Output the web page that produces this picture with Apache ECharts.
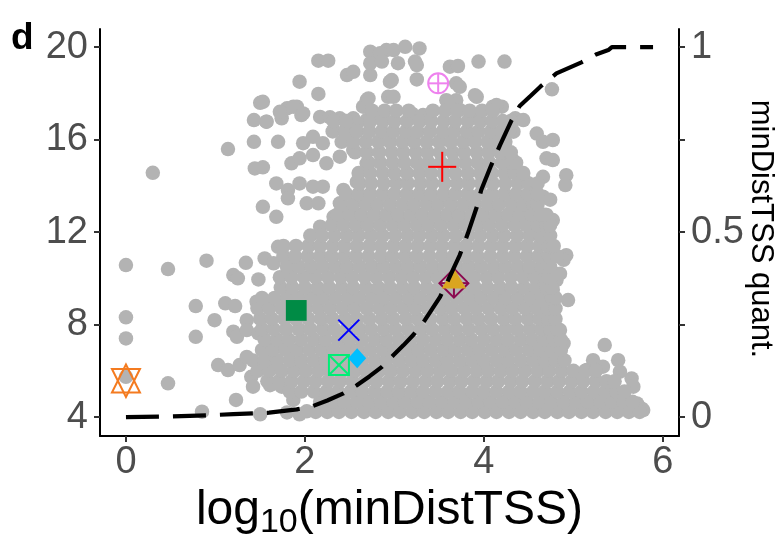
<!DOCTYPE html>
<html>
<head>
<meta charset="utf-8">
<script src="https://cdn.jsdelivr.net/npm/echarts@6/dist/echarts.min.js"></script>
<style>
  html, body { margin: 0; padding: 0; background: #ffffff; }
  #chart { width: 778px; height: 539px; }
</style>
</head>
<body>
<div id="chart"></div>
<script>
// Scattered peaks: [log10(minDistTSS), score]
const outerPeaks = [
  [0,10.57],[0.47,10.4],[0.9,10.76],[0,8.31],[0,7.4],[0,5.74],[0.47,5.46],[0.78,8.8],[0.78,7.47],[0.99,8.19],
  [0.85,4.23],[1.23,4.74],[1.5,4.12],[1.87,4.74],[1.34,10.67],[1.2,10.14],[1.25,10.0],[1.48,9.95],[1.55,10.86],
  [1.65,10.65],[1.7,11.36],[1.11,8.92],[1.22,8.8],[1.46,8.99],[1.57,8.94],[1.35,8.19],[1.2,7.69],[1.24,7.47],
  [1.35,7.76],[1.48,7.62],[1.03,6.25],[1.14,6.03],[1.27,6.25],[1.35,6.6],[1.4,5.74],[1.42,5.31],[1.61,5.38],
  [1.74,5.31],[1.65,6.18],[1.57,6.82],[1.65,7.19],[1.8,4.2],[1.94,4.12],[2.02,4.25],
  [0.3,14.56],[1.14,15.59],[1.43,15.9],[1.7,15.9],[1.5,17.59],[1.43,16.84],[1.57,16.77],[1.74,16.92],[1.8,17.35],
  [1.91,17.42],[1.96,17.06],[1.94,18.5],[2.15,19.41],[2.26,19.41],[2.15,17.97],[2.47,18.79],[2.54,18.93],
  [2.73,19.8],[2.84,19.58],[2.91,19.87],[2.73,18.79],[2.69,17.7],[2.65,17.42],[2.17,16.98],[2.28,16.96],
  [2.39,16.92],[2.54,16.92],[2.69,16.84],[2.86,17.06],[1.44,14.75],[1.53,14.8],[1.98,15.84],[2.09,16.12],
  [2.2,15.84],[1.85,14.97],[1.94,15.19],[2.09,15.33],[1.68,14.1],[1.81,13.82],[1.94,14.1],[2.09,13.96],
  [2.2,13.96],[1.53,13.09],[1.68,12.66],[1.81,13.46],[2.02,13.24],[2.15,13.24],[2.17,12.23],[2.32,16.41],
  [2.47,16.55],[2.58,16.7],[2.58,14.17],[2.43,13.82],[2.39,13.24],[2.32,12.66],[2.5,12.8],[2.24,14.97],
  [2.39,15.26],[2.54,15.55],[2.69,14.97],
  [2.84,19.73],[2.99,19.87],[3.12,20.01],[3.28,19.94],[2.73,19.3],[2.86,19.37],[3.04,19.3],[3.23,19.37],
  [3.25,19.22],[3.62,19.15],[3.71,19.18],[3.94,19.37],[4.23,19.37],[2.95,18.5],[3.25,18.6],[3.69,18.43],
  [3.73,18.28],[3.92,17.85],[4.1,17.42],[4.2,17.42],[2.93,17.85],[2.71,17.78],[3.21,17.06],[3.36,16.99],
  [2.87,17.06],[3.58,17.7],[3.69,17.7],[3.73,17.28],[3.88,17.06],[4.33,16.84],[1.53,17.63],[1.57,16.77],
  [1.72,17.2],[1.87,17.42],[1.98,17.13],
  [2.97,18.57],[2.99,17.85],[3.19,17.13],[3.32,17.06],[3.6,17.63],[3.9,17.92],[4.76,18.17],[4.14,17.49],
  [4.35,16.92],[4.33,16.34],[4.59,16.26],[4.66,15.9],[4.77,15.98],[4.31,15.19],[4.7,15.19],[4.77,15.11],
  [4.92,14.46],[4.91,14.03],[4.66,14.39],[4.66,13.53],[4.44,14.32],[4.55,14.03],[4.55,12.88],[4.7,12.74],
  [4.77,12.52],[4.44,16.84],
  [4.92,11.0],[4.89,10.8],[4.81,9.92],[4.77,9.5],[4.85,10.2],[4.94,9.06],[4.85,7.76],[4.89,7.19],[5.35,7.11],
  [5.22,6.46],[5.33,6.18],[5.5,6.46],[5.52,5.96],[5.65,5.67],[5.67,5.31],[5.02,5.89],[5.15,6.03],[5.56,4.95],
  [5.71,4.59],[5.78,4.3],[5.76,4.37],[4.74,13.4]
];

// Dense core of the cloud, one entry per score band: [score, [log10 distances]]
const corePeaks = [
  [4.22, [2.12,2.25,2.38,2.52,2.66,2.79,2.93,3.06,3.2,3.33,3.47,3.6,3.74,3.87,4.01,4.14,4.28,4.41,4.55,4.68,4.82,4.95,5.09,5.22,5.36,5.49,5.62,5.74]],
  [4.66, [2.17,2.31,2.44,2.58,2.71,2.85,2.99,3.12,3.26,3.39,3.53,3.67,3.8,3.94,4.07,4.21,4.35,4.48,4.62,4.75,4.89,5.03,5.16,5.3,5.43,5.56,5.66]],
  [5.1,  [1.83,1.96,2.1,2.24,2.37,2.51,2.64,2.78,2.92,3.05,3.19,3.32,3.46,3.6,3.73,3.87,4.0,4.14,4.28,4.41,4.55,4.68,4.82,4.96,5.09,5.23,5.36,5.48,5.57]],
  [5.55, [1.58,1.71,1.85,1.99,2.12,2.26,2.39,2.53,2.67,2.8,2.94,3.07,3.21,3.35,3.48,3.62,3.75,3.89,4.03,4.16,4.3,4.43,4.57,4.71,4.84,4.98,5.11,5.25,5.37,5.46]],
  [6.0,  [1.47,1.6,1.74,1.88,2.01,2.15,2.28,2.42,2.56,2.69,2.83,2.96,3.1,3.24,3.37,3.51,3.64,3.78,3.92,4.05,4.19,4.32,4.46,4.6,4.73,4.87,5.0,5.13,5.25]],
  [6.45, [1.42,1.55,1.69,1.83,1.96,2.1,2.23,2.37,2.51,2.64,2.78,2.91,3.05,3.19,3.32,3.46,3.59,3.73,3.87,4.0,4.14,4.27,4.41,4.55,4.68,4.8,4.9]],
  [6.9,  [1.52,1.64,1.78,1.91,2.05,2.19,2.32,2.46,2.59,2.73,2.87,3.0,3.14,3.27,3.41,3.55,3.68,3.82,3.95,4.09,4.23,4.36,4.5,4.63,4.75,4.86]],
  [7.35, [1.55,1.69,1.82,1.96,2.1,2.23,2.37,2.5,2.64,2.78,2.91,3.05,3.18,3.32,3.46,3.59,3.73,3.86,4.0,4.14,4.27,4.41,4.54,4.67,4.78,4.86]],
  [7.8,  [1.52,1.65,1.79,1.93,2.06,2.2,2.33,2.47,2.61,2.74,2.88,3.01,3.15,3.29,3.42,3.56,3.69,3.83,3.97,4.1,4.24,4.37,4.51,4.64,4.74,4.82]],
  [8.25, [1.5,1.63,1.77,1.9,2.04,2.18,2.31,2.45,2.58,2.72,2.86,2.99,3.13,3.26,3.4,3.54,3.67,3.81,3.94,4.08,4.22,4.35,4.49,4.62,4.72,4.8]],
  [8.7,  [1.47,1.6,1.74,1.87,2.01,2.15,2.28,2.42,2.55,2.69,2.83,2.96,3.1,3.23,3.37,3.51,3.64,3.78,3.91,4.05,4.19,4.32,4.46,4.59,4.71,4.8]],
  [9.15, [1.52,1.66,1.8,1.93,2.07,2.2,2.34,2.48,2.61,2.75,2.88,3.02,3.16,3.29,3.43,3.56,3.7,3.84,3.97,4.11,4.24,4.38,4.52,4.65,4.76,4.8]],
  [9.6,  [1.73,1.86,2.0,2.14,2.27,2.41,2.54,2.68,2.82,2.95,3.09,3.22,3.36,3.5,3.63,3.77,3.9,4.04,4.18,4.31,4.45,4.58,4.7,4.76]],
  [10.05,[1.72,1.85,1.99,2.12,2.26,2.4,2.53,2.67,2.8,2.94,3.08,3.21,3.35,3.48,3.62,3.76,3.89,4.03,4.16,4.3,4.44,4.57,4.68,4.72]],
  [10.5, [1.8,1.93,2.07,2.2,2.34,2.47,2.61,2.75,2.88,3.02,3.15,3.29,3.43,3.56,3.7,3.83,3.97,4.11,4.24,4.38,4.51,4.64,4.74]],
  [10.95,[1.76,1.89,2.03,2.17,2.3,2.44,2.57,2.71,2.85,2.98,3.12,3.25,3.39,3.53,3.66,3.8,3.93,4.07,4.21,4.34,4.48,4.61,4.73,4.82]],
  [11.4, [1.76,1.9,2.04,2.17,2.31,2.44,2.58,2.72,2.85,2.99,3.12,3.26,3.4,3.53,3.67,3.8,3.94,4.08,4.21,4.35,4.48,4.62,4.72,4.78]],
  [11.85,[2.06,2.19,2.33,2.47,2.6,2.74,2.87,3.01,3.15,3.28,3.42,3.55,3.69,3.83,3.96,4.1,4.23,4.37,4.51,4.63,4.74]],
  [12.3, [2.3,2.43,2.57,2.7,2.84,2.98,3.11,3.25,3.38,3.52,3.66,3.79,3.93,4.06,4.2,4.34,4.47,4.6,4.7,4.74]],
  [12.75,[2.36,2.5,2.63,2.77,2.91,3.04,3.18,3.31,3.45,3.59,3.72,3.86,3.99,4.13,4.27,4.4,4.53,4.63,4.68]],
  [13.2, [2.41,2.54,2.68,2.81,2.95,3.09,3.22,3.36,3.49,3.63,3.77,3.9,4.04,4.17,4.31,4.44,4.55,4.6]],
  [13.65,[2.46,2.6,2.73,2.87,3.0,3.14,3.28,3.41,3.55,3.68,3.82,3.96,4.09,4.23,4.36,4.49,4.6]],
  [14.1, [2.61,2.74,2.88,3.02,3.15,3.29,3.42,3.56,3.7,3.83,3.97,4.1,4.24,4.38,4.5,4.6]],
  [14.55,[2.6,2.73,2.87,3.0,3.14,3.28,3.41,3.55,3.68,3.82,3.96,4.09,4.23,4.34,4.44]],
  [15.0, [2.71,2.84,2.98,3.11,3.25,3.38,3.52,3.66,3.79,3.93,4.06,4.2,4.31,4.36]],
  [15.45,[2.56,2.69,2.83,2.97,3.1,3.24,3.37,3.51,3.65,3.78,3.92,4.05,4.18,4.3]],
  [15.9, [2.41,2.54,2.68,2.82,2.95,3.09,3.22,3.36,3.5,3.63,3.77,3.9,4.04,4.15,4.24]],
  [16.35,[2.31,2.45,2.58,2.72,2.86,2.99,3.13,3.26,3.4,3.54,3.67,3.81,3.94,4.08,4.2,4.28]],
  [16.8, [2.32,2.46,2.73,2.87,3.0,3.14,3.28,3.41,3.55,3.68,3.82,3.96,4.09,4.21,4.3]],
  [17.25,[2.75,2.89,3.02,3.16,3.43,3.57,3.7,3.84,3.98,4.1]]
];

// Cumulative quantile of minDistTSS (right axis)
const quantX = [0, 0.5, 0.9, 1.2, 1.42, 1.6, 1.91, 2.09, 2.25, 2.43, 2.58, 2.72, 2.86, 2.99, 3.1, 3.21, 3.34, 3.51, 3.6, 3.73, 3.82, 3.92, 3.97, 4.08, 4.18, 4.31, 4.4, 4.52, 4.63, 4.81, 5.09, 5.26, 5.39, 5.43, 5.89];
const quantY = [0, 0.002, 0.005, 0.008, 0.010, 0.012, 0.021, 0.030, 0.045, 0.064, 0.086, 0.11, 0.136, 0.168, 0.194, 0.222, 0.262, 0.325, 0.37, 0.438, 0.496, 0.568, 0.614, 0.68, 0.735, 0.803, 0.841, 0.868, 0.893, 0.929, 0.959, 0.981, 0.992, 1.0, 1.0];

// Highlighted peaks
const highlightX = [0.0, 1.903, 2.49, 2.38, 2.584, 3.665, 3.665, 3.534, 3.489];
const highlightY = [5.58, 8.61, 7.76, 6.25, 6.54, 9.79, 9.85, 14.82, 18.43];

// Tick values
const xTicks = [0, 2, 4, 6];
const yTicks = [4, 8, 12, 16, 20];
const qTicks = [0, 0.25, 0.5, 0.75, 1];
const qLabels = [0, 0.5, 1];

// Marker glyph for each highlighted peak
const highlightGlyphs = [
  { shape: 'hexagram', color: '#f47b20' },
  { shape: 'square', color: '#008b45' },
  { shape: 'cross', color: '#0000ff' },
  { shape: 'boxCross', color: '#00ee76' },
  { shape: 'diamond', color: '#00bfff' },
  { shape: 'diamondPlus', color: '#8b0a50' },
  { shape: 'triangle', color: '#daa520' },
  { shape: 'plus', color: '#ff0000' },
  { shape: 'circlePlus', color: '#ee82ee' }
];

const cloud = outerPeaks.slice();
corePeaks.forEach(function (band) {
  band[1].forEach(function (x) { cloud.push([x, band[0]]); });
});

const FONT = '"Liberation Sans", Arial, Helvetica, sans-serif';

function glyph(shape, color, cx, cy) {
  const stroke = { stroke: color, lineWidth: 2, fill: 'none' };
  const line = function (x1, y1, x2, y2) {
    return { type: 'line', shape: { x1: cx + x1, y1: cy + y1, x2: cx + x2, y2: cy + y2 }, style: stroke };
  };
  switch (shape) {
    case 'hexagram':
      return [
        { type: 'polygon', shape: { points: [[cx, cy - 16], [cx + 14, cy + 12], [cx - 14, cy + 12]] }, style: stroke },
        { type: 'polygon', shape: { points: [[cx, cy + 16.5], [cx + 14, cy - 11.5], [cx - 14, cy - 11.5]] }, style: stroke }
      ];
    case 'square':
      return [{ type: 'rect', shape: { x: cx - 10.4, y: cy - 10.4, width: 20.8, height: 20.8 }, style: { fill: color } }];
    case 'cross':
      return [line(-10.5, -10.5, 10.5, 10.5), line(-10.5, 10.5, 10.5, -10.5)];
    case 'boxCross':
      return [
        { type: 'rect', shape: { x: cx - 10, y: cy - 10, width: 20, height: 20 }, style: stroke },
        line(-10, -10, 10, 10), line(-10, 10, 10, -10)
      ];
    case 'diamond':
      return [{ type: 'polygon', shape: { points: [[cx, cy - 10], [cx + 9, cy], [cx, cy + 10], [cx - 9, cy]] }, style: { fill: color } }];
    case 'diamondPlus':
      return [
        { type: 'polygon', shape: { points: [[cx, cy - 14.5], [cx + 14.5, cy], [cx, cy + 14.5], [cx - 14.5, cy]] }, style: stroke },
        line(0, -14.5, 0, 14.5), line(-14.5, 0, 14.5, 0)
      ];
    case 'triangle':
      return [{ type: 'polygon', shape: { points: [[cx, cy - 13.5], [cx + 12.3, cy + 6.7], [cx - 12.3, cy + 6.7]] }, style: { fill: color } }];
    case 'plus':
      return [line(0, -15, 0, 15), line(-14, 0, 14, 0)];
    case 'circlePlus':
      return [
        { type: 'circle', shape: { cx: cx, cy: cy, r: 10 }, style: stroke },
        line(0, -10, 0, 10), line(-10, 0, 10, 0)
      ];
  }
  return [];
}

const chart = echarts.init(document.getElementById('chart'), null, { renderer: 'canvas' });

const axisLineStyle = { color: '#000000', width: 2 };
const tickStyle = { color: '#333333', width: 2 };
const labelStyle = { fontFamily: FONT, fontSize: 38, color: '#4d4d4d' };

chart.setOption({
  animation: false,
  backgroundColor: '#ffffff',
  title: {
    text: 'd',
    left: 11,
    top: 20,
    padding: 0,
    textStyle: { fontFamily: FONT, fontSize: 37, fontWeight: 'bold', color: '#000000' }
  },
  // Right-hand axis title, read top to bottom
  graphic: [
    {
      type: 'text',
      x: 761,
      y: 229,
      rotation: -Math.PI / 2,
      silent: true,
      style: {
        text: 'minDistTSS quant.',
        fontFamily: FONT,
        fontSize: 31,
        fill: '#000000',
        align: 'center',
        verticalAlign: 'middle'
      }
    }
  ],
  grid: { left: 100, right: 99, top: 29, bottom: 103, containLabel: false, outerBoundsMode: 'none' },
  xAxis: {
    type: 'value',
    min: -0.29,
    max: 6.18,
    axisLine: { show: true, onZero: false, lineStyle: axisLineStyle },
    axisTick: { show: true, length: 6, lineStyle: tickStyle, customValues: xTicks },
    axisLabel: Object.assign({ margin: 8, customValues: xTicks }, labelStyle),
    splitLine: { show: false },
    name: '{a|log}{b|10}{a|(minDistTSS)}',
    nameLocation: 'middle',
    nameGap: 42,
    nameTextStyle: {
      rich: {
        a: { fontFamily: FONT, fontSize: 48, color: '#000000', lineHeight: 58 },
        b: { fontFamily: FONT, fontSize: 34, color: '#000000', lineHeight: 34, verticalAlign: 'bottom' }
      }
    }
  },
  yAxis: [
    {
      type: 'value',
      position: 'left',
      min: 3.18,
      max: 20.78,
      axisLine: { show: true, onZero: false, lineStyle: axisLineStyle },
      axisTick: { show: true, length: 6, lineStyle: tickStyle, customValues: yTicks },
      axisLabel: Object.assign({ margin: 12, customValues: yTicks }, labelStyle),
      splitLine: { show: false }
    },
    {
      type: 'value',
      position: 'right',
      min: -0.051,
      max: 1.049,
      axisLine: { show: true, onZero: false, lineStyle: axisLineStyle },
      axisTick: { show: true, length: 6, lineStyle: tickStyle, customValues: qTicks },
      axisLabel: Object.assign({ margin: 12, customValues: qLabels }, labelStyle),
      splitLine: { show: false }
    }
  ],
  series: [
    {
      type: 'scatter',
      z: 2,
      silent: true,
      symbol: 'circle',
      symbolSize: 14.5,
      itemStyle: { color: '#b3b3b3', opacity: 1 },
      data: cloud
    },
    {
      type: 'custom',
      z: 3,
      silent: true,
      data: highlightX.map(function (x, i) { return [x, highlightY[i]]; }),
      renderItem: function (params, api) {
        const p = api.coord([api.value(0), api.value(1)]);
        const g = highlightGlyphs[params.dataIndex];
        return { type: 'group', children: glyph(g.shape, g.color, p[0], p[1]) };
      }
    },
    {
      type: 'line',
      z: 4,
      silent: true,
      yAxisIndex: 1,
      showSymbol: false,
      symbol: 'none',
      smooth: false,
      lineStyle: { color: '#000000', width: 4.2, type: [33, 14], cap: 'butt' },
      data: quantX.map(function (x, i) { return [x, quantY[i]]; })
    }
  ]
});
</script>
</body>
</html>
